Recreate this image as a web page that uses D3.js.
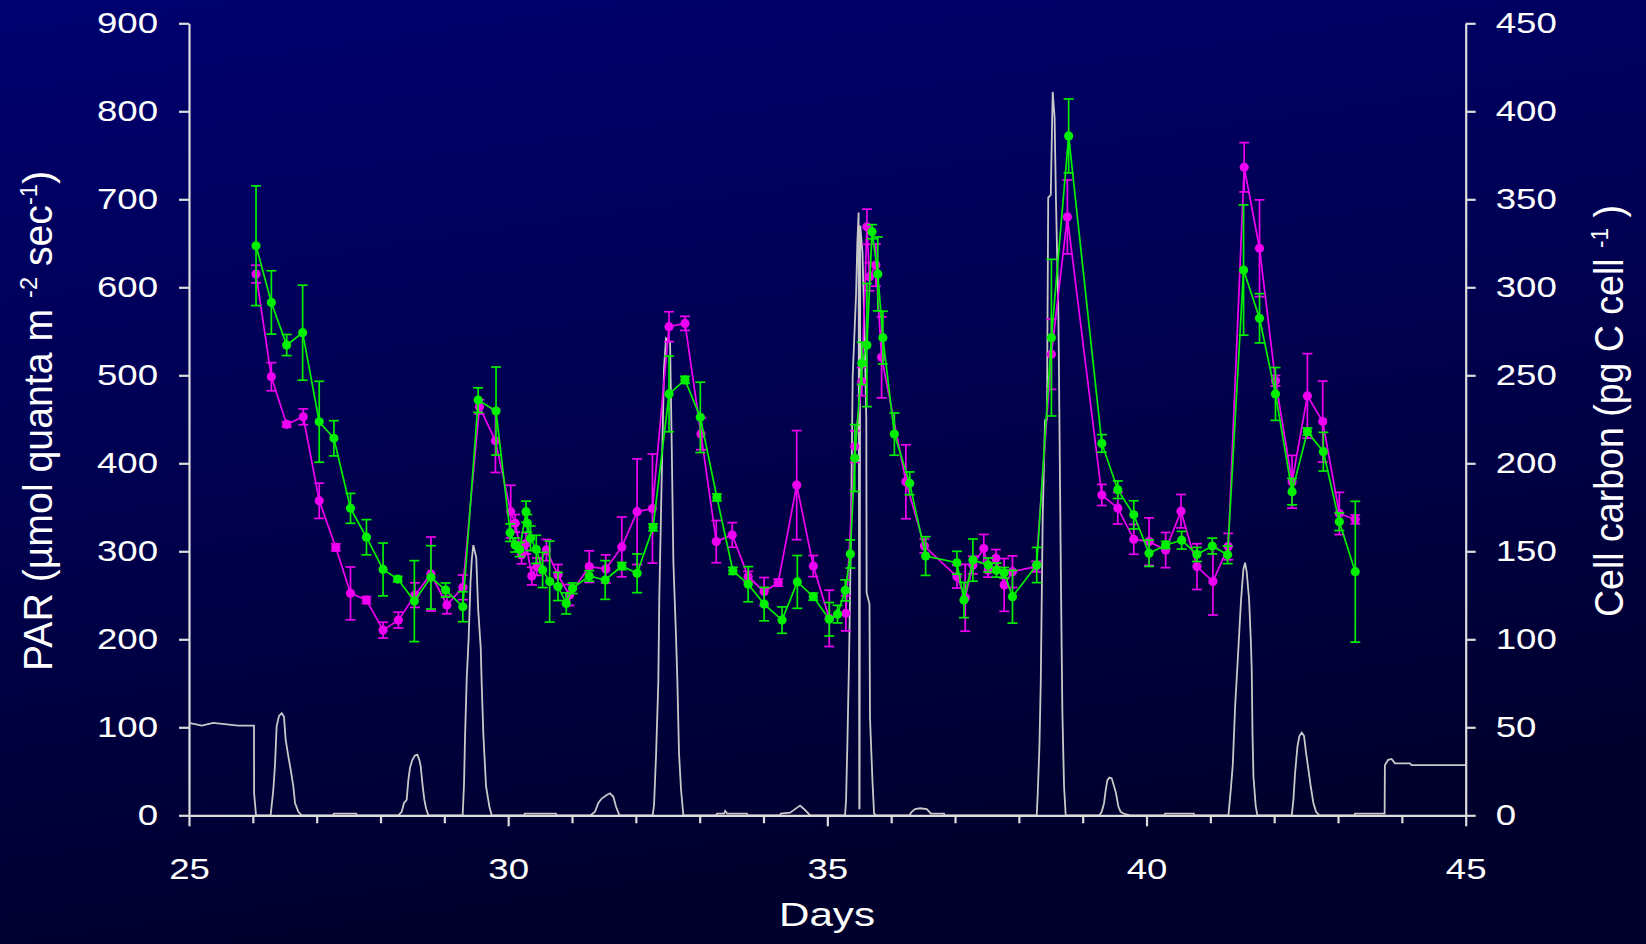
<!DOCTYPE html>
<html>
<head>
<meta charset="utf-8">
<script src="https://cdn.jsdelivr.net/npm/d3@7"></script>
<style>
  html, body { margin: 0; padding: 0; background: #000040; }
  svg { display: block; }
  text { font-family: "Liberation Sans", Arial, sans-serif; fill: #ffffff; }
</style>
</head>
<body>
<svg id="chart" width="1646" height="944"></svg>
<script>
// ---------- DATA ----------
// PAR trace (left axis, µmol quanta m-2 sec-1)
const parDays = [25,25.2,25.38,25.77,26.018,26.02,26.05,
  26.279,26.321,26.347,26.373,26.41,26.452,26.488,26.514,26.556,26.593,26.634,26.661,26.713,26.765,
  27.26,27.27,27.62,27.63,
  28.279,28.332,28.368,28.41,28.436,28.462,28.499,28.54,28.577,28.608,28.629,28.661,28.687,28.713,28.749,
  29.287,29.308,29.324,29.35,29.38,29.41,29.43,29.454,29.5,29.53,29.57,29.585,29.611,29.653,29.705,29.742,
  30.25,30.26,30.75,30.76,
  31.292,31.36,31.413,31.465,31.543,31.595,31.648,31.689,31.742,
  32.264,32.285,32.316,32.352,32.368,32.405,32.441,32.473,32.536,32.562,32.588,32.63,32.65,32.676,32.708,32.744,
  33.26,33.27,33.38,33.4,33.43,33.74,33.75,
  34.26,34.27,34.416,34.494,34.573,34.651,34.73,
  35.277,35.293,35.314,35.34,35.37,35.397,35.45,35.47,35.49,35.5,35.505,35.515,35.55,35.58,35.61,35.615,35.66,35.668,35.706,35.732,35.763,
  36.285,36.322,36.374,36.452,36.557,36.609,36.62,36.828,36.835,
  38.28,38.296,38.322,38.343,38.374,38.41,38.44,38.46,38.5,38.53,38.56,38.58,38.62,38.661,38.682,38.708,38.734,
  39.262,39.298,39.335,39.361,39.387,39.418,39.455,39.491,39.522,39.559,39.595,39.637,39.741,
  40.28,40.29,40.74,40.75,
  41.283,41.32,41.351,41.388,41.424,41.455,41.481,41.518,41.544,41.57,41.607,41.633,41.648,41.66,41.675,41.711,41.737,
  42.275,42.301,42.327,42.364,42.395,42.432,42.468,42.499,42.536,42.572,42.614,42.656,42.708,
  43.26,43.264,43.73,43.734,43.786,43.839,43.891,44.126,44.152,45];
const parValues = [105,102,105,102,102,25,0,
  0,29,57,101,113,116,112,86,67,52,33,14,4,0,
  0,2,2,0,
  0,4,14,17.5,40,54,63,68,69,63,56,33,17.5,8,0,
  0,35,88,154,200,265,291,307,293,234,190,150,92,33,10,0,
  0,2,2,0,
  0,4,14,19,23,25,21,10,0,
  0,12,67,151,250,383,508,542,538,421,288,202,154,71,29,0,
  0,2,2,5,2,2,0,
  0,2,3,7,11,6,0,
  0,17,82,177,320,499,592,651,685,8,8,670,640,560,451,253,240,111,40,2,0,
  0,4,7,8,7,3,2,2,0,
  0,25,78,151,341,449,450,702,705,822,793,704,567,253,116,33,0,
  0,4,14,29,40,43,42,33,25,10,4,2,0,
  0,2,2,0,
  0,29,57,124,170,211,245,280,287,276,245,200,166,92,44,10,0,
  0,17.5,48,78,90,94,90,71,52,33,14,4,0,
  0,2,2,57,63,64,59,59,57,57];

// Cell carbon, magenta series (right axis, pg C cell-1)
const magentaDays = [26.05,26.29,26.53,26.79,27.04,27.30,27.53,27.78,28.04,28.28,28.54,28.79,29.04,29.29,29.55,29.80,
  30.04,30.11,30.21,30.28,30.37,30.45,30.60,30.78,30.96,
  31.27,31.53,31.78,32.02,32.26,32.52,32.77,33.02,33.26,33.51,
  33.76,34.01,34.23,34.52,34.78,35.03,35.29,35.43,35.54,35.62,
  35.66,35.76,35.85,36.23,36.52,37.03,37.16,37.28,37.45,37.52,
  37.64,37.77,37.90,38.27,38.51,38.76,39.30,39.55,39.80,40.04,
  40.30,40.54,40.79,41.04,41.28,41.53,41.77,42.02,42.28,42.52,
  42.76,43.02,43.27];
const magentaCarbon = [307.5,249.2,222.1,226.4,178.7,152.2,126.1,122.3,105.2,110.9,125.1,137.1,119.5,129.5,232.1,212.8,
  172.5,165.9,147.9,154.5,135.9,141.3,150.7,136.5,125.2,
  141.3,140,152.5,172.5,174.3,277.6,279.5,216.7,155.5,159.3,
  135.6,127.1,132.2,187.6,141.6,111.9,114.8,209.5,246.4,334.4,
  306,312.6,260.2,189.5,153,135.6,123.6,142.2,151.6,139.3,
  146,130.9,138.4,141.3,262,340,182,174.5,156.8,155.5,
  150.7,172.8,141.3,132.8,152.7,368.2,322.2,246.9,189.5,238.3,
  223.7,171.5,168.1];
const magentaErr = [5,8,1.5,4.5,10,2,15,2,4.5,4.5,7,21,5,7,4,18,
  15,5,5,6,5,5,6,6,6,
  9,8,17,30,31,8.5,4,9,12,7,
  3,8,2,31,6,16,10,9,8,10,
  8,12,23,21,4,6.5,19,5,8,4,
  5,15,9,3,20,21,6,9,8.5,13.5,
  10,9.5,13,19,7.5,14,27.5,3,15,24,
  23,12,2.5];

// Cell carbon, green series (right axis, pg C cell-1)
const greenDays = [26.05,26.29,26.53,26.78,27.04,27.27,27.53,27.78,28.04,28.27,28.53,28.79,29.02,29.29,29.53,29.81,
  30.03,30.11,30.18,30.28,30.30,30.35,30.44,30.54,30.65,30.78,30.91,31.01,
  31.27,31.52,31.78,32.02,32.27,32.52,32.77,33.01,33.27,33.52,
  33.76,34.01,34.29,34.53,34.78,35.03,35.16,35.28,35.36,35.43,
  35.54,35.62,35.70,35.79,35.87,36.05,36.29,36.54,37.03,37.14,
  37.28,37.52,37.65,37.77,37.90,38.28,38.51,38.78,39.30,39.55,
  39.80,40.04,40.30,40.55,40.79,41.03,41.27,41.52,41.77,42.02,
  42.28,42.52,42.77,43.02,43.27];
const greenCarbon = [323.6,291.4,267.2,274.2,223.6,214.2,174.4,158.0,139.7,134.2,121.7,135.2,128.0,118.5,235.9,229.7,
  160.6,153.6,151,172.5,165.9,157.4,151.1,139.4,132.8,130,120.4,129,
  136,133.7,141.6,137.5,163.6,239.4,247.4,226.1,180.6,138.9,
  131.3,120,110.9,132.6,124.2,111.4,114.3,127.8,148.5,203,
  256.8,267.2,331.6,307.6,271.4,216.6,188.6,147.3,143.5,122.3,
  145,142.2,139.3,137.8,124.2,142.2,271.4,386,211.3,185,
  170.7,148.9,153.6,156.3,148.2,153,148,309.8,282.4,239.4,
  183.9,218,206.6,166.8,138.4];
const greenErr = [34,18,6,27,23,10,8.5,10,15,1.5,23,18,4,8.5,7,25,
  5,4,4,6,5,7,8,10,23,8,6,3,
  3,11,2,11,2,21.5,2,20,2,2,
  10,9.5,7.5,15,2,9.5,5,6,8,19,
  12,35,4,21,15,12,6.5,11,6.5,10,
  12,4,4,3,15,10,44.5,21,5,5,
  8,7.5,2,5,4,4.5,5,37,14,15,
  7.5,2,11,5,40];

const xTicks = d3.range(25, 46, 1);
const leftTicks = d3.range(0, 901, 100);
const rightTicks = d3.range(0, 451, 50);

// ---------- LAYOUT ----------
const W = 1646, H = 944;
const X0 = 189, X1 = 1465.7, Y0 = 815.3, Y1 = 23.3;
const axisColor = "#dcdcdc";
const magenta = "#f000f0", green = "#00f000", grayLine = "#c8c8c8";

const svg = d3.select("#chart");
const defs = svg.append("defs");
const grad = defs.append("linearGradient").attr("id", "bg")
  .attr("x1", "0").attr("y1", "0").attr("x2", "0.25").attr("y2", "1");
grad.append("stop").attr("offset", "0").attr("stop-color", "#000070");
grad.append("stop").attr("offset", "0.5").attr("stop-color", "#000050");
grad.append("stop").attr("offset", "1").attr("stop-color", "#00002c");
svg.append("rect").attr("width", W).attr("height", H).attr("fill", "url(#bg)");

const x = d3.scaleLinear().domain([25, 45]).range([X0, X1]);
const yL = d3.scaleLinear().domain([0, 900]).range([Y0, Y1]);
const yR = d3.scaleLinear().domain([0, 450]).range([Y0, Y1]);

function stretch(sel, k) {
  sel.each(function () {
    const w = this.getComputedTextLength();
    this.setAttribute("textLength", w * k);
    this.setAttribute("lengthAdjust", "spacingAndGlyphs");
  });
}

// ---------- PAR trace ----------
const parData = parDays.map((d, i) => [d, parValues[i]]);
svg.append("path")
  .attr("d", d3.line().x(d => x(d[0])).y(d => yL(d[1]))(parData))
  .attr("fill", "none").attr("stroke", grayLine).attr("stroke-width", 1.8)
  .attr("stroke-linejoin", "miter");

// ---------- AXES ----------
function styleAxis(g) {
  g.select(".domain").attr("stroke", axisColor).attr("stroke-width", 2.2);
  g.selectAll(".tick line").attr("stroke", axisColor).attr("stroke-width", 2.2);
  g.selectAll(".tick text").attr("fill", "#ffffff").attr("font-size", 30)
    .attr("font-family", "'Liberation Sans', Arial, sans-serif");
}

const gx = svg.append("g").attr("transform", `translate(0,${Y0})`)
  .call(d3.axisBottom(x).tickValues(xTicks).tickSize(8).tickSizeOuter(0).tickPadding(34)
    .tickFormat(d => (d % 5 === 0 ? d : "")));
styleAxis(gx);
gx.selectAll(".tick line").attr("y2", d => (d % 5 === 0 ? 11 : 8));

const gl = svg.append("g").attr("transform", `translate(${X0},0)`)
  .call(d3.axisLeft(yL).tickValues(leftTicks).tickSize(10).tickSizeOuter(0).tickPadding(21));
styleAxis(gl);

const gr = svg.append("g").attr("transform", `translate(${X1},0)`)
  .call(d3.axisRight(yR).tickValues(rightTicks).tickSize(10).tickSizeOuter(0).tickPadding(20));
styleAxis(gr);

[gx, gl, gr].forEach(g => stretch(g.selectAll(".tick text"), 1.22));

// ---------- SERIES ----------
function drawSeries(days, vals, errs, color) {
  const data = days.map((d, i) => ({ d, v: vals[i], e: errs[i] }));
  const g = svg.append("g");
  g.append("path")
    .attr("d", d3.line().x(p => x(p.d)).y(p => yR(p.v))(data))
    .attr("fill", "none").attr("stroke", color).attr("stroke-width", 1.7);
  const eb = g.selectAll(".eb").data(data).enter().append("g");
  eb.append("line")
    .attr("x1", p => x(p.d)).attr("x2", p => x(p.d))
    .attr("y1", p => yR(p.v + p.e)).attr("y2", p => yR(p.v - p.e))
    .attr("stroke", color).attr("stroke-width", 1.7);
  eb.append("line")
    .attr("x1", p => x(p.d) - 5).attr("x2", p => x(p.d) + 5)
    .attr("y1", p => yR(p.v + p.e)).attr("y2", p => yR(p.v + p.e))
    .attr("stroke", color).attr("stroke-width", 1.7);
  eb.append("line")
    .attr("x1", p => x(p.d) - 5).attr("x2", p => x(p.d) + 5)
    .attr("y1", p => yR(p.v - p.e)).attr("y2", p => yR(p.v - p.e))
    .attr("stroke", color).attr("stroke-width", 1.7);
  g.selectAll(".pt").data(data).enter().append("circle")
    .attr("cx", p => x(p.d)).attr("cy", p => yR(p.v)).attr("r", 4.6)
    .attr("fill", color);
}
drawSeries(magentaDays, magentaCarbon, magentaErr, magenta);
drawSeries(greenDays, greenCarbon, greenErr, green);

// ---------- TITLES ----------
const days = svg.append("text").attr("x", 827).attr("y", 926)
  .attr("text-anchor", "middle").attr("font-size", 33).text("Days");
days.attr("textLength", 96).attr("lengthAdjust", "spacingAndGlyphs");

const lt = svg.append("text").attr("transform", "translate(52,421) rotate(-90)")
  .attr("text-anchor", "middle").attr("font-size", 40);
lt.append("tspan").text("PAR (µmol quanta m ");
lt.append("tspan").attr("font-size", 24).attr("dy", -15).text("-2");
lt.append("tspan").attr("dy", 15).text(" sec");
lt.append("tspan").attr("font-size", 24).attr("dy", -15).text("-1");
lt.append("tspan").attr("dy", 15).text(")");
lt.attr("textLength", 500).attr("lengthAdjust", "spacingAndGlyphs");

const rt = svg.append("text").attr("transform", "translate(1623,411) rotate(-90)")
  .attr("text-anchor", "middle").attr("font-size", 40);
rt.append("tspan").text("Cell carbon (pg C cell ");
rt.append("tspan").attr("font-size", 24).attr("dy", -15).text("-1");
rt.append("tspan").attr("dy", 15).text(" )");
rt.attr("textLength", 412).attr("lengthAdjust", "spacingAndGlyphs");
</script>
</body>
</html>
